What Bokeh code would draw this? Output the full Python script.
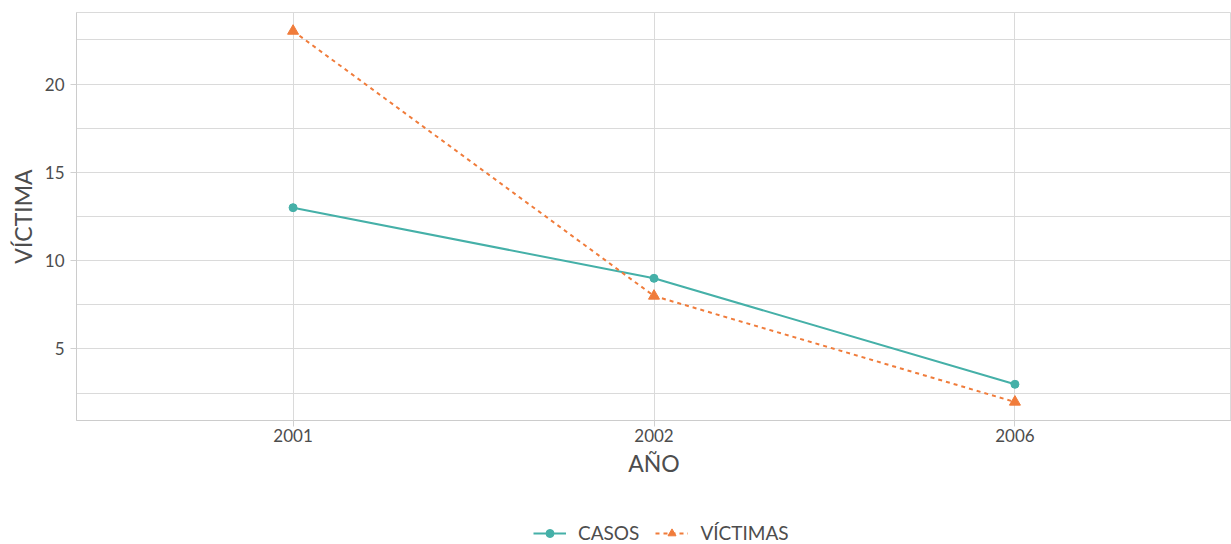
from bokeh.plotting import figure
from bokeh.layouts import column
from bokeh.models import FactorRange, Range1d, FixedTicker, Legend, LegendItem, ColumnDataSource
from bokeh.embed import file_html
from bokeh.resources import INLINE

years = ["2001", "2002", "2006"]
casos = [13, 9, 3]
victimas = [23, 8, 2]
y_ticks = [5, 10, 15, 20]
y_minor = [2.5, 7.5, 12.5, 17.5, 22.5]

TEAL = "#45B0A8"
ORANGE = "#F07C3B"
FONT = "Lato"
TXT = "#4D4D4D"

p = figure(width=1231, height=496, output_backend="svg", toolbar_location=None,
           x_range=FactorRange(*years, range_padding=0.1, range_padding_units="absolute"),
           y_range=Range1d(0.95, 24.05))
p.min_border_left = 76
p.min_border_top = 12
p.min_border_right = 0
p.min_border_bottom = 76
p.background_fill_color = "white"
p.border_fill_color = "white"
p.outline_line_color = "#DADADA"

src = ColumnDataSource(dict(x=years, casos=casos, victimas=victimas))
p.line("x", "casos", source=src, line_color=TEAL, line_width=2)
p.scatter("x", "casos", source=src, marker="circle", size=8, color=TEAL)
p.line("x", "victimas", source=src, line_color=ORANGE, line_width=2, line_dash="4 4")
p.scatter("x", "victimas", source=src, marker="triangle", size=11, color=ORANGE)

p.yaxis.ticker = FixedTicker(ticks=y_ticks, minor_ticks=y_minor)
p.ygrid.minor_grid_line_color = "#DADADA"
p.ygrid.grid_line_color = "#DADADA"
p.xgrid.grid_line_color = "#DADADA"

for ax in (p.xaxis, p.yaxis):
    ax.axis_line_color = "#CCCCCC"
    ax.major_tick_line_color = "#D0D0D0"
    ax.major_tick_out = 6
    ax.major_tick_in = 0
    ax.minor_tick_line_color = None
    ax.major_label_text_font = FONT
    ax.major_label_text_font_size = "17px"
    ax.major_label_text_color = TXT
    ax.axis_label_text_font = FONT
    ax.axis_label_text_font_size = "23px"
    ax.axis_label_text_color = TXT
    ax.axis_label_text_font_style = "normal"

p.xaxis.axis_label = "AÑO"
p.yaxis.axis_label = "VÍCTIMA"
p.yaxis.major_label_standoff = 6
p.xaxis.major_label_standoff = 2
p.xaxis.axis_label_standoff = 4
p.yaxis.axis_label_standoff = 5

# legend strip below the chart
q = figure(width=1231, height=48, output_backend="svg", toolbar_location=None,
           x_range=FactorRange(*years), y_range=Range1d(1000, 1001),
           x_axis_location=None, y_axis_location=None)
q.min_border_left = 0
q.min_border_right = 0
q.min_border_top = 0
q.min_border_bottom = 0
q.outline_line_color = None
q.grid.visible = False
src2 = ColumnDataSource(dict(x=years, casos=casos, victimas=victimas))
g1 = q.line("x", "casos", source=src2, line_color=TEAL, line_width=2)
h1 = q.scatter("x", "casos", source=src2, marker="circle", size=8, color=TEAL)
g2 = q.line("x", "victimas", source=src2, line_color=ORANGE, line_width=2, line_dash="4 4")
h2 = q.scatter("x", "victimas", source=src2, marker="triangle", size=11, color=ORANGE)

legend = Legend(items=[LegendItem(label="CASOS", renderers=[g1, h1]),
                       LegendItem(label="VÍCTIMAS", renderers=[g2, h2])],
                orientation="horizontal", location=(457, 0),
                label_text_font=FONT, label_text_font_size="19px", label_text_color=TXT,
                border_line_color=None, background_fill_alpha=0,
                glyph_width=33, label_standoff=12, spacing=16, padding=2, margin=0)
q.add_layout(legend, "center")

layout = column(p, q, spacing=0)
open("out.html", "w").write(file_html(layout, INLINE))
